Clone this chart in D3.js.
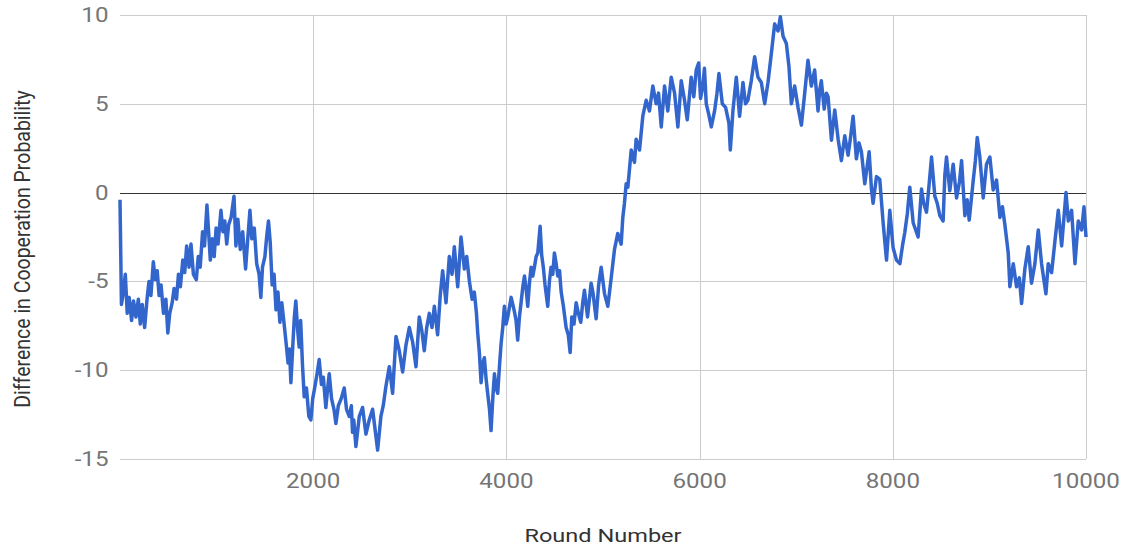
<!DOCTYPE html>
<html>
<head>
<meta charset="utf-8">
<script src="https://cdn.jsdelivr.net/npm/d3@7"></script>
<style>
  body { margin: 0; background: #fff; }
  svg { display: block; font-family: Roboto, "Noto Sans", sans-serif; }
</style>
</head>
<body>
<div id="chart"></div>
<script>
'use strict';

// values: round number and difference
const rounds = [
  0, 15, 35, 55, 75, 95, 120, 140, 165, 190, 210, 230, 255, 280, 300, 320, 345, 365, 385, 405,
  425, 450, 475, 495, 515, 540, 560, 585, 605, 625, 650, 670, 690, 715, 735, 760, 790, 810, 830, 855,
  875, 900, 915, 935, 955, 975, 995, 1015, 1045, 1065, 1085, 1105, 1125, 1150, 1180,
  1200, 1220, 1245, 1270, 1300, 1320, 1345, 1365, 1390, 1415, 1440, 1458, 1475, 1500, 1520, 1537,
  1555, 1575, 1595, 1615, 1635, 1655, 1675, 1699, 1720, 1740, 1755, 1769, 1790, 1805, 1820, 1840,
  1855, 1870, 1890, 1907, 1930, 1955, 1976, 1995, 2015, 2040, 2062, 2085, 2105, 2131, 2150, 2166,
  2190, 2215, 2235, 2260, 2290, 2321, 2345, 2373, 2395, 2407, 2420, 2442,
  2477, 2511, 2546, 2580, 2615, 2642, 2667, 2701, 2725, 2753, 2788, 2822, 2857, 2891, 2926, 2960,
  2995, 3029, 3064, 3098, 3125, 3150, 3175, 3202, 3230, 3254, 3288, 3315, 3340, 3375, 3409, 3437,
  3461, 3496, 3530, 3565, 3589, 3617, 3645, 3668, 3690, 3703, 3720, 3738, 3755, 3772, 3790, 3806,
  3825, 3841, 3860, 3876, 3893, 3910, 3928, 3945, 3962, 3979, 3997, 4014, 4030, 4049, 4066, 4083,
  4100, 4117, 4135, 4152, 4170, 4187, 4204, 4221, 4240, 4256, 4273, 4290, 4308, 4325, 4349, 4365,
  4382, 4400, 4428, 4445, 4462, 4480, 4497, 4515, 4532, 4550, 4567, 4590, 4618, 4640, 4660, 4677,
  4700, 4722, 4745, 4770, 4790, 4808, 4840, 4877, 4895, 4929, 4955, 4981, 5016, 5050, 5085, 5119,
  5153, 5188, 5205, 5222, 5240, 5257, 5274, 5292, 5326, 5343, 5378, 5412, 5447, 5481, 5516, 5550,
  5575, 5603, 5637, 5671, 5706, 5741, 5775, 5810, 5844, 5872, 5913, 5940, 5965, 5990, 6010, 6034,
  6050, 6069, 6095, 6121, 6155, 6180, 6200, 6235, 6269, 6304, 6318, 6345, 6380, 6414, 6449, 6475,
  6500, 6535, 6570, 6604, 6639, 6674, 6708, 6743, 6777, 6812, 6836, 6864, 6898, 6925, 6950, 6984,
  7019, 7054, 7088, 7122, 7157, 7191, 7226, 7244, 7260, 7290, 7312, 7330, 7365, 7399, 7434, 7468,
  7503, 7537, 7560, 7589, 7623, 7650, 7675, 7710, 7755, 7779, 7796, 7831, 7865, 7900, 7935, 7969,
  8003, 8038, 8073, 8100, 8124, 8150, 8176, 8211, 8262, 8297, 8320, 8349, 8375, 8401, 8435, 8460,
  8487, 8521, 8539, 8556, 8590, 8625, 8660, 8690, 8712, 8746, 8770, 8791, 8833, 8855, 8874, 8901,
  8936, 8970, 9005, 9039, 9074, 9109, 9135, 9160, 9195, 9212, 9247, 9281, 9310, 9333, 9367, 9402,
  9436, 9471, 9506, 9540, 9585, 9609, 9644, 9679, 9713, 9748, 9793, 9817, 9851, 9886, 9920, 9955,
  9979, 10000
];

const diff = [
  -0.4, -6.3, -5.6, -4.6, -6.8, -5.9, -7.2, -6.1, -7.0, -6.0, -7.4, -6.3, -7.6, -6.0, -5.0, -5.8, -3.9, -4.9, -4.4, -5.8,
  -5.2, -6.8, -6.0, -7.9, -6.8, -6.2, -5.4, -6.0, -4.6, -5.3, -3.8, -4.5, -3.0, -4.2, -2.9, -4.6, -4.9, -3.6, -4.2, -2.2,
  -3.0, -0.7, -2.0, -3.8, -2.6, -3.6, -2.0, -2.9, -1.0, -2.2, -1.6, -2.9, -1.8, -1.4, -0.2,
  -3.0, -1.5, -3.2, -2.2, -4.3, -2.8, -1.0, -2.6, -2.0, -4.0, -4.6, -5.9, -4.2, -3.6, -2.4, -1.6,
  -2.8, -5.2, -4.6, -6.6, -5.6, -7.3, -6.2, -7.4, -8.5, -9.6, -8.8, -10.7, -8.5, -7.0, -6.1, -7.8,
  -8.7, -7.2, -9.8, -11.5, -11.0, -12.6, -12.8, -11.6, -11.0, -10.2, -9.4, -10.8, -10.4, -12.1, -11.0, -10.2,
  -11.6, -12.2, -13.0, -12.0, -11.6, -11.0, -12.2, -12.6, -12.0, -13.5, -12.8, -14.3,
  -12.6, -12.1, -13.6, -12.8, -12.2, -13.4, -14.5, -12.6, -12.0, -10.9, -9.8, -11.3, -8.1, -8.9, -10.1, -8.6,
  -7.6, -8.4, -9.8, -7.0, -7.8, -8.9, -7.6, -6.8, -7.6, -6.4, -8.0, -5.8, -4.4, -6.2, -3.6, -4.6,
  -3.05, -5.3, -2.5, -4.3, -3.6, -5.0, -6.0, -5.6, -6.8, -7.9, -9.0, -10.7, -9.6, -9.3, -10.5, -11.3,
  -12.2, -13.4, -11.5, -10.2, -11.0, -11.3, -9.8, -8.5, -7.6, -6.4, -7.4, -7.0, -6.5, -5.9, -6.3, -6.7,
  -7.2, -8.3, -7.0, -6.2, -5.3, -4.7, -5.4, -6.4, -5.0, -4.2, -4.7, -4.2, -3.6, -3.4, -1.9, -3.5,
  -4.2, -5.2, -6.4, -5.0, -4.2, -4.6, -3.4, -4.0, -4.7, -4.4, -5.6, -6.4, -7.6, -8.0, -9.0, -7.0,
  -7.4, -6.2, -6.8, -7.3, -6.2, -5.5, -7.0, -5.1, -5.6, -7.1, -5.2, -4.2, -5.7, -6.4, -4.8, -3.2,
  -2.3, -2.9, -1.4, -0.6, 0.5, 0.3, 1.3, 2.4, 1.7, 3.0, 2.4, 4.3, 5.2, 4.6, 6.0, 5.0,
  5.6, 3.7, 6.0, 4.6, 6.5, 5.6, 3.7, 6.3, 5.2, 4.1, 6.5, 5.4, 6.9, 7.3, 5.3, 6.0,
  7.0, 5.0, 4.4, 3.7, 4.6, 5.6, 6.7, 5.0, 4.8, 3.9, 2.4, 4.6, 6.5, 4.3, 6.2, 5.0,
  5.2, 6.3, 7.65, 6.5, 6.2, 5.0, 6.2, 7.85, 9.5, 9.1, 9.9, 8.8, 8.4, 7.1, 5.0, 6.0,
  4.8, 3.8, 5.6, 7.45, 6.0, 6.9, 4.6, 5.8, 6.3, 4.7, 5.6, 5.4, 2.95, 4.65, 3.0, 1.8,
  3.2, 2.1, 3.0, 4.3, 1.9, 2.8, 2.3, 0.5, 2.3, 0.2, -0.6, 0.9, 0.75, -1.7, -3.8, -1.0,
  -3.1, -3.8, -4.0, -3.0, -2.25, -1.2, 0.3, -1.7, -2.5, 0.2, -0.6, -1.1, 0.4, 2.0, -0.2, -0.6,
  -1.3, -1.6, 1.0, 2.0, 0.1, 1.6, -0.3, 0.6, 1.8, -1.3, -0.4, -1.55, 0.7, 1.8, 3.1, 2.0,
  -0.3, 1.6, 2.0, 0.15, 0.7, -1.4, -0.8, -1.8, -3.4, -5.3, -4.0, -5.3, -4.8, -6.25, -4.3, -3.05,
  -5.1, -4.0, -2.1, -4.0, -5.7, -4.0, -4.5, -2.7, -1.0, -3.0, 0, -1.6, -1.0, -4.0, -1.6, -2.1,
  -0.8, -2.5
];

const xTicks = [2000, 4000, 6000, 8000, 10000];
const yTicks = [-15, -10, -5, 0, 5, 10];

const width = 1129, height = 546;
const margin = {top: 15, right: 43, bottom: 87, left: 120};
const stretch = 1.24;   // the text in the picture is wider than it is tall

const svg = d3.select('#chart')
    .append('svg')
    .attr('width', width)
    .attr('height', height);

const x = d3.scaleLinear()
    .domain([0, 10000])
    .range([margin.left, width - margin.right]);

const y = d3.scaleLinear()
    .domain([-15, 10])
    .range([height - margin.bottom, margin.top]);

// horizontal grid
svg.append('g')
    .selectAll('line')
    .data(yTicks.filter(d => d !== 0))
    .join('line')
        .attr('x1', x(0))
        .attr('x2', x(10000))
        .attr('y1', d => Math.round(y(d)) + 0.5)
        .attr('y2', d => Math.round(y(d)) + 0.5)
        .attr('stroke', '#cccccc');

// vertical grid
svg.append('g')
    .selectAll('line')
    .data(xTicks)
    .join('line')
        .attr('x1', d => Math.round(x(d)) + 0.5)
        .attr('x2', d => Math.round(x(d)) + 0.5)
        .attr('y1', y(10))
        .attr('y2', y(-15))
        .attr('stroke', '#cccccc');

// baseline at zero
svg.append('line')
    .attr('x1', x(0))
    .attr('x2', x(10000))
    .attr('y1', Math.round(y(0)) + 0.5)
    .attr('y2', Math.round(y(0)) + 0.5)
    .attr('stroke', '#333333');

// tick labels
svg.append('g')
    .selectAll('text')
    .data(yTicks)
    .join('text')
        .attr('transform', d => `translate(${x(0) - 11.5}, ${y(d) + 7}) scale(${stretch}, 1)`)
        .attr('text-anchor', 'end')
        .attr('font-size', 19.5)
        .attr('fill', '#757575')
        .text(d => d);

svg.append('g')
    .selectAll('text')
    .data(xTicks)
    .join('text')
        .attr('transform', d => `translate(${x(d)}, ${y(-15) + 29}) scale(${stretch}, 1)`)
        .attr('text-anchor', 'middle')
        .attr('font-size', 19.5)
        .attr('fill', '#757575')
        .text(d => d);

// axis titles
svg.append('text')
    .attr('transform', `translate(${(x(0) + x(10000)) / 2}, 541.5) scale(${stretch}, 1)`)
    .attr('text-anchor', 'middle')
    .attr('font-size', 19)
    .attr('fill', '#333333')
    .text('Round Number');

svg.append('text')
    .attr('transform', `translate(30, 249) rotate(-90) scale(1, 1.15)`)
    .attr('text-anchor', 'middle')
    .attr('font-size', 19.5)
    .attr('fill', '#333333')
    .text('Difference in Cooperation Probability');

// the series
const line = d3.line()
    .x(d => x(d[0]))
    .y(d => y(d[1]));

svg.append('path')
    .datum(d3.zip(rounds, diff))
    .attr('fill', 'none')
    .attr('stroke', '#3366cc')
    .attr('stroke-width', 3.5)
    .attr('stroke-linejoin', 'round')
    .attr('d', line);
</script>
</body>
</html>
